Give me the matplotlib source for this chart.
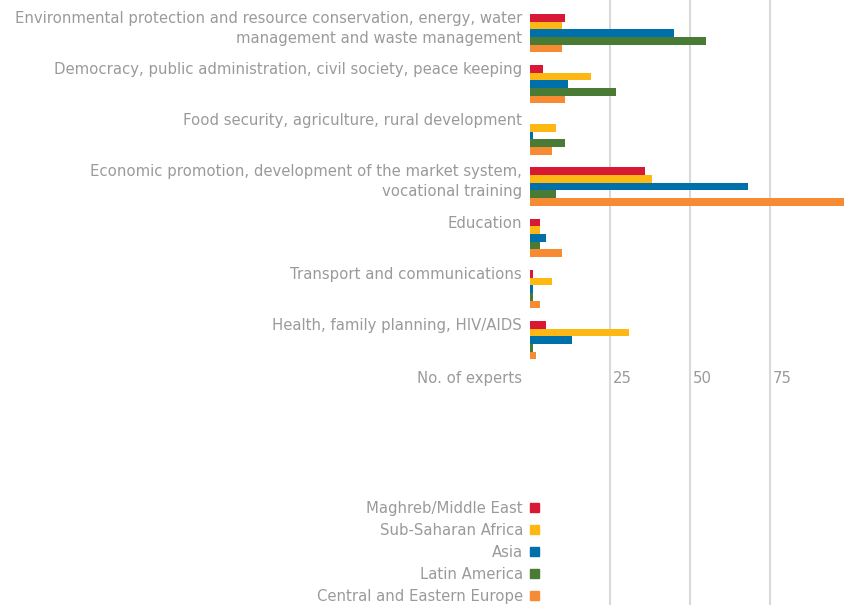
import numpy as np
import matplotlib.pyplot as plt
from matplotlib.patches import Patch
from matplotlib.transforms import offset_copy

plt.rcParams['font.family'] = ['DejaVu Sans']

# datos
categorias = [
    "Environmental protection and resource conservation, energy, water\nmanagement and waste management",
    "Democracy, public administration, civil society, peace keeping",
    "Food security, agriculture, rural development",
    "Economic promotion, development of the market system,\nvocational training",
    "Education",
    "Transport and communications",
    "Health, family planning, HIV/AIDS",
]
regiones = ["Maghreb/Middle East", "Sub-Saharan Africa", "Asia",
            "Latin America", "Central and Eastern Europe"]
maghreb = [11, 4, 0, 36, 3, 1, 5]
subsahara = [10, 19, 8, 38, 3, 7, 31]
asia = [45, 12, 1, 68, 5, 1, 13]
latam = [55, 27, 11, 8, 3, 1, 1]
europa = [10, 11, 7, 98, 10, 3, 2]
series = [maghreb, subsahara, asia, latam, europa]
colores = ['#d71935', '#fdb813', '#0070aa', '#4a7b35', '#f68b33']
ticks = [25, 50, 75]
gris = '#9a9a9a'
fs = 10.7

fig = plt.figure(figsize=(8.46, 6.05), dpi=100)
ax = fig.add_axes([530 / 846, 0, 316 / 846, 1])

y = np.arange(len(categorias))
alto = 0.15
for k, (vals, col) in enumerate(zip(series, colores)):
    ax.barh(y + (k - 2) * alto, vals, height=alto, color=col, zorder=3)

ax.set_xlim(0, 316 / 3.2)
ax.set_ylim(11.17, -0.645)
ax.set_xticks(ticks)
ax.grid(axis='x', color='#d9d9d9', linewidth=1.5, zorder=0)
ax.tick_params(left=False, bottom=False, labelleft=False, labelbottom=False)
for s in ax.spines.values():
    s.set_visible(False)

# etiquetas de categorias
trans = offset_copy(ax.get_yaxis_transform(), fig=fig, x=-8, y=3, units='dots')
for i, cat in enumerate(categorias):
    ax.text(0, i - 2.5 * alto, cat, transform=trans, ha='right', va='top',
            fontsize=fs, color=gris, multialignment='right', linespacing=1.4)

# eje x
ty = 6 + 38 / 51.2
trans2 = offset_copy(ax.get_yaxis_transform(), fig=fig, x=-8, y=0, units='dots')
ax.text(0, ty, "No. of experts", transform=trans2, ha='right', va='center',
        fontsize=fs, color=gris)
for t in ticks:
    ax.annotate(str(t), (t, ty), xytext=(2, 0), textcoords='offset points',
                ha='left', va='center', fontsize=fs, color=gris)

# leyenda
handles = [Patch(color=c, label=r) for r, c in zip(regiones, colores)]
leg = fig.legend(handles=handles, loc='lower right', bbox_to_anchor=(552 / 846, -0.02),
                 frameon=False, markerfirst=False, handlelength=0.55, handleheight=0.55,
                 handletextpad=0.5, labelspacing=0.47, fontsize=fs)
for t in leg.get_texts():
    t.set_color(gris)
    t.set_ha('right')

fig.savefig('out.png', dpi=100)
